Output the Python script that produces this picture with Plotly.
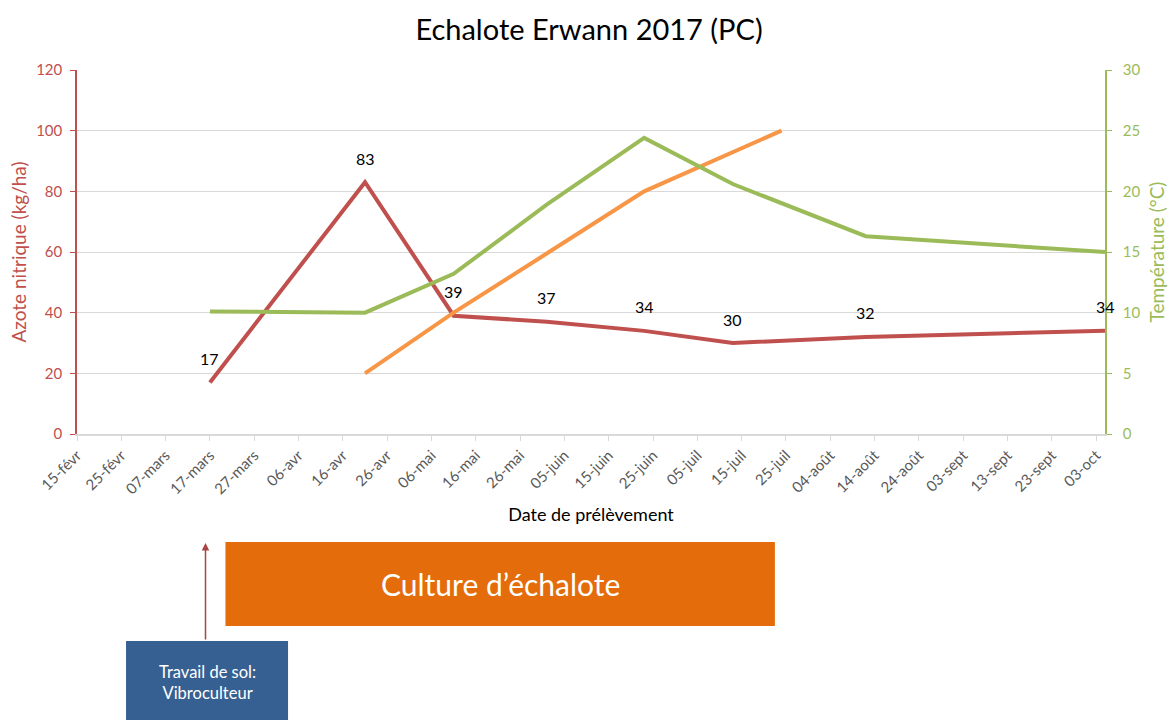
import pandas as pd
import plotly.graph_objects as go

# Sampling dates and measurements
sample_dates = ["2017-03-17", "2017-04-21", "2017-05-11", "2017-06-01",
                "2017-06-23", "2017-07-13", "2017-08-12", "2017-10-05"]
nitrate = [17, 83, 39, 37, 34, 30, 32, 34]              # kg/ha
temperature = [10.1, 10.0, 13.2, 18.9, 24.4, 20.6, 16.3, 15.0]  # °C

# Crop development curve
crop_dates = ["2017-04-21", "2017-05-11", "2017-06-01", "2017-06-23", "2017-07-24"]
crop_curve = [20, 40, 59.5, 80, 100]

# Field operations
soil_work_date = "2017-03-16"
culture_start, culture_end = "2017-03-20 12:00", "2017-07-22 12:00"

tick_labels = ["15-févr", "25-févr", "07-mars", "17-mars", "27-mars", "06-avr",
               "16-avr", "26-avr", "06-mai", "16-mai", "26-mai", "05-juin",
               "15-juin", "25-juin", "05-juil", "15-juil", "25-juil", "04-août",
               "14-août", "24-août", "03-sept", "13-sept", "23-sept", "03-oct"]
tick_dates = pd.date_range("2017-02-15", periods=len(tick_labels), freq="10D")

FONT = "Lato, Open Sans, sans-serif"
RED = "#C0504D"
GREEN = "#9BBB59"
ORANGE = "#F79646"
GRID = "#D9D9D9"

fig = go.Figure()

fig.add_trace(go.Scatter(
    x=sample_dates, y=nitrate, mode="lines", name="Azote nitrique",
    line=dict(color=RED, width=4), yaxis="y"))
fig.add_trace(go.Scatter(
    x=crop_dates, y=crop_curve, mode="lines", name="Culture",
    line=dict(color=ORANGE, width=4), yaxis="y"))
fig.add_trace(go.Scatter(
    x=sample_dates, y=temperature, mode="lines", name="Température",
    line=dict(color=GREEN, width=4), yaxis="y2"))

# Value labels above the nitrate points
for d, v in zip(sample_dates, nitrate):
    fig.add_annotation(x=d, y=v, xref="x", yref="y", text=str(v),
                       showarrow=False, yshift=24,
                       xanchor="center", yanchor="middle",
                       font=dict(family=FONT, size=16, color="#000000"))

# Crop period banner
culture_mid = pd.Timestamp(culture_start) + (pd.Timestamp(culture_end) - pd.Timestamp(culture_start)) / 2
fig.add_shape(type="rect", xref="x", yref="paper",
              x0=culture_start, x1=culture_end, y0=-0.5275, y1=-0.2967,
              fillcolor="#E46C0A", line=dict(width=0), layer="above")
fig.add_annotation(x=culture_mid, y=-0.412, xref="x", yref="paper",
                   text="Culture d’échalote", showarrow=False,
                   xanchor="center", yanchor="middle",
                   font=dict(family=FONT, size=30, color="white"))

# Soil work box and arrow
fig.add_shape(type="rect", xref="paper", yref="paper",
              x0=0.0477, x1=0.2053, y0=-0.80, y1=-0.5687,
              fillcolor="#376092", line=dict(width=0), layer="above")
fig.add_annotation(x=0.1265, y=-0.683, xref="paper", yref="paper",
                   text="Travail de sol:<br>Vibroculteur", showarrow=False,
                   xanchor="center", yanchor="middle",
                   font=dict(family=FONT, size=16.5, color="white"))
fig.add_annotation(x=soil_work_date, y=-0.2995, xref="x", yref="paper",
                   ax=0, ay=98, axref="pixel", ayref="pixel", text="",
                   showarrow=True, arrowhead=2, arrowsize=1, arrowwidth=1.5,
                   arrowcolor="#A94442")

fig.update_layout(
    width=1171, height=720, autosize=False,
    margin=dict(l=77, r=66, t=70, b=286),
    paper_bgcolor="white", plot_bgcolor="white",
    showlegend=False,
    font=dict(family=FONT),
    title=dict(text="Echalote Erwann 2017 (PC)", x=0.503, xanchor="center",
               y=1 - 30 / 720, yanchor="middle",
               font=dict(family=FONT, size=29, color="#000000")),
    xaxis=dict(type="date", range=["2017-02-15", "2017-10-05"],
               tickvals=tick_dates, ticktext=tick_labels, tickangle=-45,
               tickfont=dict(family=FONT, size=15, color="#595959"),
               ticks="outside", ticklen=5, tickcolor=GRID,
               showline=True, linecolor=GRID, linewidth=1.5,
               showgrid=False, zeroline=False, automargin=False,
               title=dict(text="Date de prélèvement", standoff=12,
                          font=dict(family=FONT, size=18, color="#000000"))),
    yaxis=dict(range=[0, 120], dtick=20,
               tickfont=dict(family=FONT, size=15, color=RED),
               ticks="outside", ticklen=5, tickcolor=RED, ticklabelstandoff=5,
               showline=True, linecolor=RED, linewidth=1.5,
               showgrid=True, gridcolor=GRID, gridwidth=1.3, zeroline=False,
               automargin=False,
               title=dict(text="Azote nitrique (kg/ha)", standoff=4,
                          font=dict(family=FONT, size=19, color=RED))),
    yaxis2=dict(range=[0, 30], dtick=5, overlaying="y", side="right",
                tickfont=dict(family=FONT, size=15, color=GREEN),
                ticks="outside", ticklen=5, tickcolor=GREEN, ticklabelstandoff=8,
                showline=True, linecolor=GREEN, linewidth=1.5,
                showgrid=False, zeroline=False, automargin=False,
                title=dict(text="Température (°C)", standoff=11,
                           font=dict(family=FONT, size=19, color=GREEN))),
)

fig.write_html("out.html")
